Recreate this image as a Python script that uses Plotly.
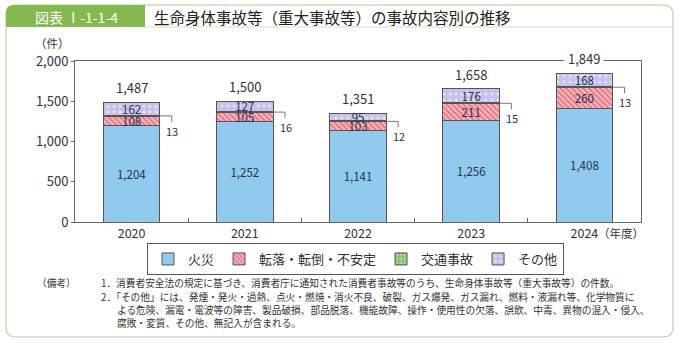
import plotly.graph_objects as go

# ---------------- data ----------------
years = ["2020", "2021", "2022", "2023", "2024"]
fire = [1204, 1252, 1141, 1256, 1408]
fall = [108, 105, 103, 211, 260]
traffic = [13, 16, 12, 15, 13]
other = [162, 127, 95, 176, 168]
totals = [1487, 1500, 1351, 1658, 1849]
series_names = ["火災", "転落・転倒・不安定", "交通事故", "その他"]
y_ticks = [0, 500, 1000, 1500, 2000]

fig_label = "図表 Ⅰ-1-1-4"
title_text = "生命身体事故等（重大事故等）の事故内容別の推移"
unit_text = "（件）"
year_suffix = "（年度）"
note_head = "（備考）"
note_lines = [
    "1．消費者安全法の規定に基づき、消費者庁に通知された消費者事故等のうち、生命身体事故等（重大事故等）の件数。",
    "2．「その他」には、発煙・発火・過熱、点火・燃焼・消火不良、破裂、ガス爆発、ガス漏れ、燃料・液漏れ等、化学物質に",
    "よる危険、漏電・電波等の障害、製品破損、部品脱落、機能故障、操作・使用性の欠落、誤飲、中毒、異物の混入・侵入、",
    "腐敗・変質、その他、無記入が含まれる。",
]

# ---------------- layout geometry ----------------
W, H = 680, 343
L, R, T, B = 75, 39, 61, 121
PW, PH = W - L - R, H - T - B
FONT = "Noto Sans CJK JP"


def X(px):
    return (px - L) / PW


def Y(py):
    return (H - B - py) / PH


def rrect(x0, y0, x1, y1, r, tl=True, tr=True, br=True, bl=True):
    p = []
    p.append(f"M {X(x0 + (r if tl else 0))},{Y(y0)}")
    p.append(f"L {X(x1 - (r if tr else 0))},{Y(y0)}")
    if tr:
        p.append(f"Q {X(x1)},{Y(y0)} {X(x1)},{Y(y0 + r)}")
    p.append(f"L {X(x1)},{Y(y1 - (r if br else 0))}")
    if br:
        p.append(f"Q {X(x1)},{Y(y1)} {X(x1 - r)},{Y(y1)}")
    p.append(f"L {X(x0 + (r if bl else 0))},{Y(y1)}")
    if bl:
        p.append(f"Q {X(x0)},{Y(y1)} {X(x0)},{Y(y1 - r)}")
    p.append(f"L {X(x0)},{Y(y0 + (r if tl else 0))}")
    if tl:
        p.append(f"Q {X(x0)},{Y(y0)} {X(x0 + r)},{Y(y0)}")
    p.append("Z")
    return " ".join(p)


xs = list(range(len(years)))
edge = dict(color="#555555", width=1)
bar_w = 0.5
label_font = dict(size=11.5, color="#23324f", family=FONT)

fig = go.Figure()

fig.add_bar(
    x=xs, y=fire, name=series_names[0], width=bar_w,
    marker=dict(color="#91c9ef", line=edge),
    texttemplate="%{y:,}", textposition="inside", insidetextanchor="middle",
    textangle=0, constraintext="none", insidetextfont=label_font,
)
fig.add_bar(
    x=xs, y=fall, name=series_names[1], width=bar_w,
    marker=dict(color="#f6b6be", line=edge,
                pattern=dict(shape="\\", fgcolor="#e26676", bgcolor="#f6b6be",
                             size=4, solidity=0.35, fillmode="replace")),
    texttemplate="%{y:,}", textposition="inside", insidetextanchor="middle",
    textangle=0, constraintext="none", insidetextfont=label_font,
)
fig.add_bar(
    x=xs, y=traffic, name=series_names[2], width=bar_w,
    marker=dict(color="#a8d690", line=edge,
                pattern=dict(shape="+", fgcolor="#5f9f4c", bgcolor="#a8d690",
                             size=5, solidity=0.25, fillmode="replace")),
    textposition="none",
)
fig.add_bar(
    x=xs, y=other, name=series_names[3], width=bar_w,
    marker=dict(color="#c6c2ea", line=edge,
                pattern=dict(shape=".", fgcolor="#e6e4f8", bgcolor="#c6c2ea",
                             size=6, solidity=0.2, fillmode="replace")),
    texttemplate="%{y:,}", textposition="inside", insidetextanchor="middle",
    textangle=0, constraintext="none", insidetextfont=label_font,
)

# leader lines for the traffic-accident values
lx, ly = [], []
traffic_mid = []
for i in xs:
    yt = fire[i] + fall[i] + traffic[i] / 2
    traffic_mid.append(yt)
    lx += [i + bar_w / 2, i + 0.355, i + 0.355, None]
    ly += [yt, yt, yt - 75, None]
fig.add_scatter(x=lx, y=ly, mode="lines", line=dict(color="#777777", width=1),
                showlegend=False, hoverinfo="skip")

annotations = []
for i in xs:
    annotations.append(dict(
        x=i + 0.36, y=traffic_mid[i], xref="x", yref="y", text=str(traffic[i]),
        showarrow=False, xanchor="center", yshift=-15,
        font=dict(size=11, color="#333333", family=FONT)))
    annotations.append(dict(
        x=i, y=totals[i], xref="x", yref="y", text=f"{totals[i]:,}",
        showarrow=False, xanchor="center", yanchor="bottom", yshift=1,
        bgcolor="white", borderpad=3,
        font=dict(size=13, color="#333333", family=FONT)))

# year suffix next to last tick
annotations.append(dict(
    x=xs[-1], y=0, xref="x", yref="paper", text=year_suffix, showarrow=False,
    xanchor="left", yanchor="top", xshift=12, yshift=-1,
    font=dict(size=11.5, color="#333333", family=FONT)))

# unit label
annotations.append(dict(
    x=X(52), y=Y(43), xref="paper", yref="paper", text=unit_text, showarrow=False,
    xanchor="center", yanchor="middle",
    font=dict(size=11.5, color="#333333", family=FONT)))

# header texts
annotations.append(dict(
    x=X(76), y=Y(16.5), xref="paper", yref="paper", text=fig_label, showarrow=False,
    xanchor="center", yanchor="middle",
    font=dict(size=14, color="#ffffff", family=FONT)))
annotations.append(dict(
    x=X(152), y=Y(16.5), xref="paper", yref="paper", text=title_text, showarrow=False,
    xanchor="left", yanchor="middle", font=dict(size=15.5, color="#222222", family=FONT)))

# notes
note_font = dict(size=9.7, color="#333333", family=FONT)
annotations.append(dict(x=X(35), y=Y(283), xref="paper", yref="paper", text=note_head,
                        showarrow=False, xanchor="left", yanchor="middle", font=note_font))
note_pos = [(99, 283), (99, 297), (115, 310), (115, 323)]
for (nx, ny), txt in zip(note_pos, note_lines):
    annotations.append(dict(x=X(nx), y=Y(ny), xref="paper", yref="paper", text=txt,
                            showarrow=False, xanchor="left", yanchor="middle",
                            font=note_font))

shapes = [
    dict(type="path", xref="paper", yref="paper", path=rrect(6, 5, 673, 337, 10),
         line=dict(color="#cfdcbc", width=1.5), fillcolor="rgba(0,0,0,0)", layer="below"),
    dict(type="path", xref="paper", yref="paper",
         path=rrect(6, 5, 145, 27, 8, tr=False, br=False, bl=False),
         line=dict(width=0), fillcolor="#85b84e", layer="below"),
    dict(type="line", xref="paper", yref="paper", x0=X(145), x1=X(673), y0=Y(27), y1=Y(27),
         line=dict(color="#d3e2bd", width=1), layer="below"),
]

fig.update_layout(
    width=W, height=H, autosize=False,
    margin=dict(l=L, r=R, t=T, b=B, pad=0),
    paper_bgcolor="white", plot_bgcolor="white",
    barmode="stack",
    font=dict(family=FONT, color="#333333"),
    showlegend=True,
    legend=dict(orientation="h", x=X(355.5), xanchor="center", y=Y(243), yanchor="top",
                bordercolor="#555555", borderwidth=1, bgcolor="white",
                font=dict(size=13, color="#333333", family=FONT), traceorder="normal"),
    xaxis=dict(range=[-0.5, len(years) - 0.5], tickvals=xs, ticktext=years, ticks="",
               showline=True, mirror=True, linecolor="#666666", linewidth=1,
               showgrid=False, zeroline=False,
               tickfont=dict(size=12.5, color="#333333", family=FONT),
               minor=dict(tickvals=[i + 0.5 for i in xs[:-1]], ticks="inside", ticklen=4,
                          tickcolor="#666666", showgrid=False)),
    yaxis=dict(range=[0, 2000], tickvals=y_ticks, tickformat=",", ticks="outside",
               ticklen=3, tickcolor="#666666", showline=True, mirror=True,
               linecolor="#666666", linewidth=1, showgrid=False, zeroline=False,
               tickfont=dict(size=13, color="#333333", family=FONT)),
    annotations=annotations,
    shapes=shapes,
)

fig.write_html("out.html", config={"displayModeBar": False})
